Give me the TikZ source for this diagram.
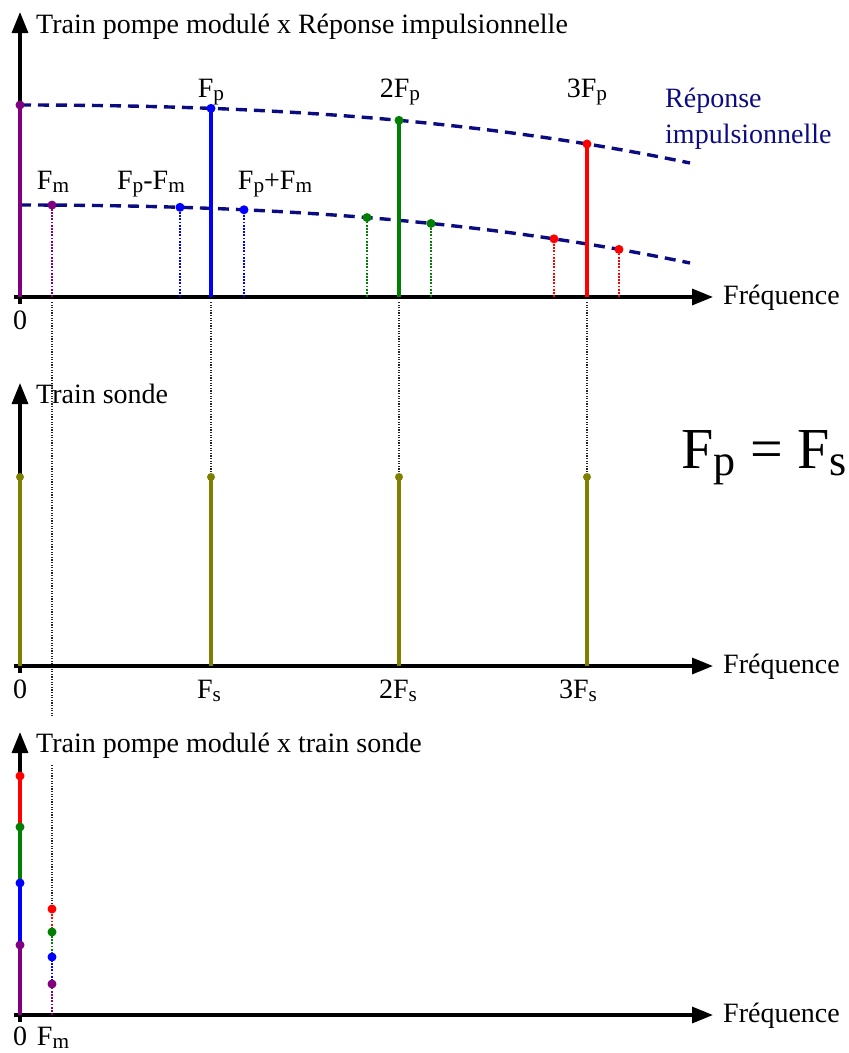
\documentclass[tikz,border=0pt]{standalone}
\usepackage{fontspec}
\setmainfont{Liberation Serif}
\usetikzlibrary{arrows.meta}
\definecolor{navyc}{RGB}{12,12,130}
\definecolor{purp}{RGB}{128,0,128}
\definecolor{grn}{RGB}{0,128,0}
\definecolor{oliv}{RGB}{128,128,0}
\newcommand\sbs[1]{\raisebox{-0.13em}{\scalebox{0.76}{#1}}}
\begin{document}
\begin{tikzpicture}[x=1pt,y=-1pt,
  lbl/.style={inner sep=0pt, font=\fontsize{28}{32}\selectfont},
  axisln/.style={line width=3.2pt, -{Triangle[length=21pt,width=16pt]}},
  spike/.style={line width=3.6pt},
  dotln/.style={line width=1.8pt, dash pattern=on 1.8pt off 1.4pt},
  guide/.style={line width=1.2pt, dash pattern=on 1.2pt off 1.4pt, black!85},
  bead/.style={circle, fill, inner sep=0pt, minimum size=9pt},
  sbead/.style={circle, fill, inner sep=0pt, minimum size=8pt},
  respc/.style={navyc, line width=3.4pt, dash pattern=on 11pt off 7pt},
  declare function={resp(\u)=58*(0.6*(\u/670)^2+0.4*(\u/670)^3);}
]
\useasboundingbox (0,0) rectangle (849,1053);

% ---------- guides (black dotted) ----------
\coordinate (g1a) at (52,302);  \coordinate (g1b) at (52,716);
\coordinate (g2a) at (211,302); \coordinate (g2b) at (211,477);
\coordinate (g3a) at (399,302); \coordinate (g3b) at (399,477);
\coordinate (g4a) at (587,302); \coordinate (g4b) at (587,477);
\coordinate (g5a) at (52,765);  \coordinate (g5b) at (52,909);
\foreach \g in {1,...,5} {\draw[guide] (g\g a) -- (g\g b);}

% ================= Panel 1 =================
\coordinate (X1s) at (14,297); \coordinate (X1e) at (713,297);
\coordinate (Y1s) at (20,304); \coordinate (Y1e) at (20,12);
\draw[axisln] (X1s) -- (X1e);
\draw[axisln] (Y1s) -- (Y1e);

\draw[respc] plot[domain=0:670,samples=90] ({20+\x},{105+resp(\x)});
\draw[respc] plot[domain=0:670,samples=90] ({20+\x},{205+resp(\x)});

% solid spikes
\foreach \xx/\cc/\nm in {20/purp/a,211/blue/b,399/grn/c,587/red/d} {
  \coordinate (s\nm) at (\xx,297);
  \coordinate (S\nm) at ({\xx},{105+resp(\xx-20)});
  \draw[spike,\cc] (s\nm) -- (S\nm);
  \node[bead,\cc] (SB\nm) at (S\nm) {};
}
% dotted side bands
\foreach \xx/\cc/\nm in {52/purp/a,180/blue/b,244/blue/c,367/grn/d,431/grn/e,554/red/f,619/red/g} {
  \coordinate (m\nm) at (\xx,297);
  \coordinate (M\nm) at ({\xx},{205+resp(\xx-20)});
  \draw[dotln,\cc] (m\nm) -- (M\nm);
  \node[bead,\cc] (MB\nm) at (M\nm) {};
}

\node[lbl,anchor=base west] (t1) at (36,33) {Train pompe modulé x Réponse impulsionnelle};
\node[lbl,anchor=base] (lfp) at (211,97) {F\sbs{p}};
\node[lbl,anchor=base] (l2fp) at (400,97) {2F\sbs{p}};
\node[lbl,anchor=base] (l3fp) at (587,97) {3F\sbs{p}};
\node[lbl,anchor=base] (lfm) at (53,189) {F\sbs{m}};
\node[lbl,anchor=base] (lfpm) at (151,189) {F\sbs{p}-F\sbs{m}};
\node[lbl,anchor=base] (lfpp) at (275,189) {F\sbs{p}+F\sbs{m}};
\node[lbl,anchor=base west,text=navyc] (r1) at (665,107) {Réponse};
\node[lbl,anchor=base west,text=navyc] (r2) at (665,143) {impulsionnelle};
\node[lbl,anchor=base west] (f1) at (723,304) {Fréquence};
\node[lbl,anchor=base] (z1) at (20,329) {0};

% ================= Panel 2 =================
\coordinate (X2s) at (14,666); \coordinate (X2e) at (713,666);
\coordinate (Y2s) at (20,673); \coordinate (Y2e) at (20,383);
\draw[axisln] (X2s) -- (X2e);
\draw[axisln] (Y2s) -- (Y2e);
\foreach \xx/\nm in {20/a,211/b,399/c,587/d} {
  \coordinate (o\nm) at (\xx,666);
  \coordinate (O\nm) at (\xx,477);
  \draw[spike,oliv] (o\nm) -- (O\nm);
  \node[sbead,oliv] (OB\nm) at (O\nm) {};
}
\node[lbl,anchor=base west] (t2) at (36,403) {Train sonde};
\node[lbl,anchor=base west] (f2) at (723,673) {Fréquence};
\node[lbl,anchor=base] (z2) at (20,698) {0};
\node[lbl,anchor=base] (lfs) at (209,698) {F\sbs{s}};
\node[lbl,anchor=base] (l2fs) at (398,698) {2F\sbs{s}};
\node[lbl,anchor=base] (l3fs) at (578,698) {3F\sbs{s}};
\node[inner sep=0pt,anchor=base west,font=\fontsize{58}{62}\selectfont] (eq) at (681,468) {F\sbs{p} = F\sbs{s}};

% ================= Panel 3 =================
\coordinate (X3s) at (14,1015); \coordinate (X3e) at (713,1015);
\coordinate (Y3s) at (20,1022); \coordinate (Y3e) at (20,732);
\draw[axisln] (X3s) -- (X3e);
\draw[axisln] (Y3s) -- (Y3e);

\coordinate (c0) at (20,1015);
\coordinate (c1) at (20,945);
\coordinate (c2) at (20,883);
\coordinate (c3) at (20,827);
\coordinate (c4) at (20,776);
\draw[spike,purp] (c0) -- (c1);
\draw[spike,blue] (c1) -- (c2);
\draw[spike,grn] (c2) -- (c3);
\draw[spike,red] (c3) -- (c4);
\node[bead,purp] (cb1) at (c1) {};
\node[bead,blue] (cb2) at (c2) {};
\node[bead,grn] (cb3) at (c3) {};
\node[bead,red] (cb4) at (c4) {};

\coordinate (d0) at (52,1015);
\coordinate (d1) at (52,984);
\coordinate (d2) at (52,957);
\coordinate (d3) at (52,932);
\coordinate (d4) at (52,909);
\draw[dotln,purp] (d0) -- (d1);
\draw[dotln,blue] (d1) -- (d2);
\draw[dotln,grn] (d2) -- (d3);
\draw[dotln,red] (d3) -- (d4);
\node[bead,purp] (db1) at (d1) {};
\node[bead,blue] (db2) at (d2) {};
\node[bead,grn] (db3) at (d3) {};
\node[bead,red] (db4) at (d4) {};

\node[lbl,anchor=base west] (t3) at (36,752) {Train pompe modulé x train sonde};
\node[lbl,anchor=base west] (f3) at (723,1022) {Fréquence};
\node[lbl,anchor=base] (z3) at (20,1045) {0};
\node[lbl,anchor=base] (lfm3) at (53,1045) {F\sbs{m}};
\end{tikzpicture}
\end{document}
